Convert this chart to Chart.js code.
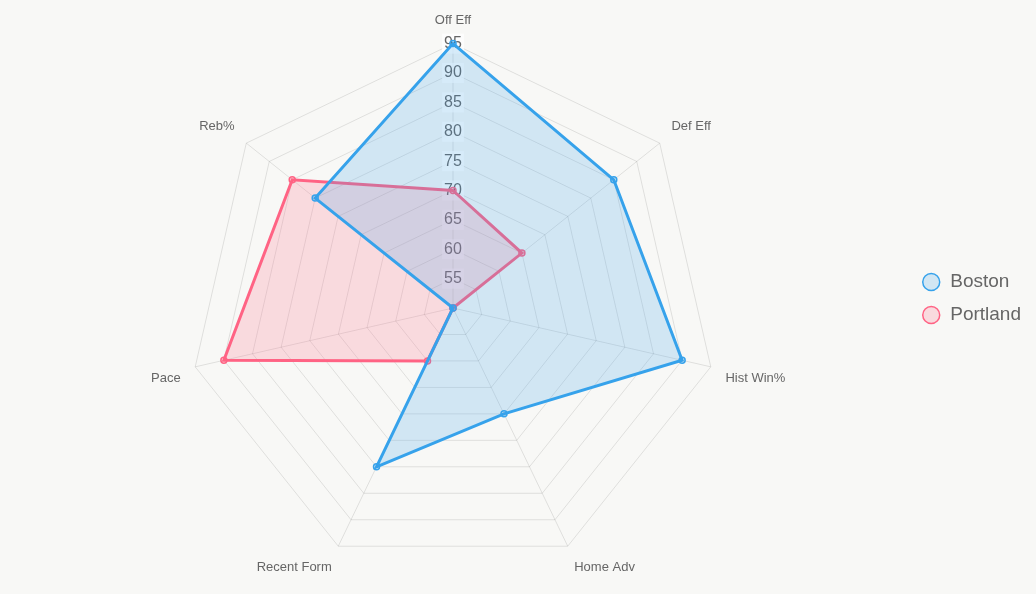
<!DOCTYPE html>
<html>
<head>
<meta charset="utf-8">
<script src="https://cdn.jsdelivr.net/npm/chart.js@4"></script>
<style>
  html, body { margin: 0; padding: 0; background: #f8f8f6; }
  #wrap { width: 1036px; height: 594px; }
</style>
</head>
<body>
<div id="wrap"><canvas id="radarChart"></canvas></div>
<script>
const labels = ['Off Eff', 'Def Eff', 'Hist Win%', 'Home Adv', 'Recent Form', 'Pace', 'Reb%'];
const bostonValues = [95, 85, 90, 70, 80, 50, 80];
const portlandValues = [70, 65, 50, 50, 60, 90, 85];

const ctx = document.getElementById('radarChart');
new Chart(ctx, {
  type: 'radar',
  data: {
    labels: labels,
    datasets: [{
      label: 'Boston',
      data: bostonValues,
      backgroundColor: 'rgba(54,162,235,0.2)',
      borderColor: 'rgba(54,162,235,1)',
      borderWidth: 3,
      pointRadius: 3,
      pointBorderWidth: 1.5,
      pointBackgroundColor: 'rgba(54,162,235,0.2)',
      pointBorderColor: 'rgba(54,162,235,1)',
    }, {
      label: 'Portland',
      data: portlandValues,
      backgroundColor: 'rgba(255,99,132,0.2)',
      borderColor: 'rgba(255,99,132,1)',
      borderWidth: 3,
      pointRadius: 3,
      pointBorderWidth: 1.5,
      pointBackgroundColor: 'rgba(255,99,132,0.2)',
      pointBorderColor: 'rgba(255,99,132,1)',
    }],
  },
  options: {
    responsive: true,
    maintainAspectRatio: false,
    animation: false,
    layout: { padding: { top: 3, bottom: 0, left: 0, right: 5 } },
    plugins: {
      legend: {
        position: 'right',
        labels: {
          usePointStyle: true,
          boxWidth: 19,
          boxHeight: 12,
          color: '#666',
          font: { size: 19 },
          padding: 14,
        },
      },
    },
    scales: {
      r: {
        min: 50,
        max: 95,
        grid: { color: 'rgba(0,0,0,0.1)' },
        angleLines: { color: 'rgba(0,0,0,0.1)' },
        ticks: { stepSize: 5, color: '#666', font: { size: 16 } },
        pointLabels: { color: '#666', font: { size: 13 } },
      },
    },
  },
});
</script>
</body>
</html>
